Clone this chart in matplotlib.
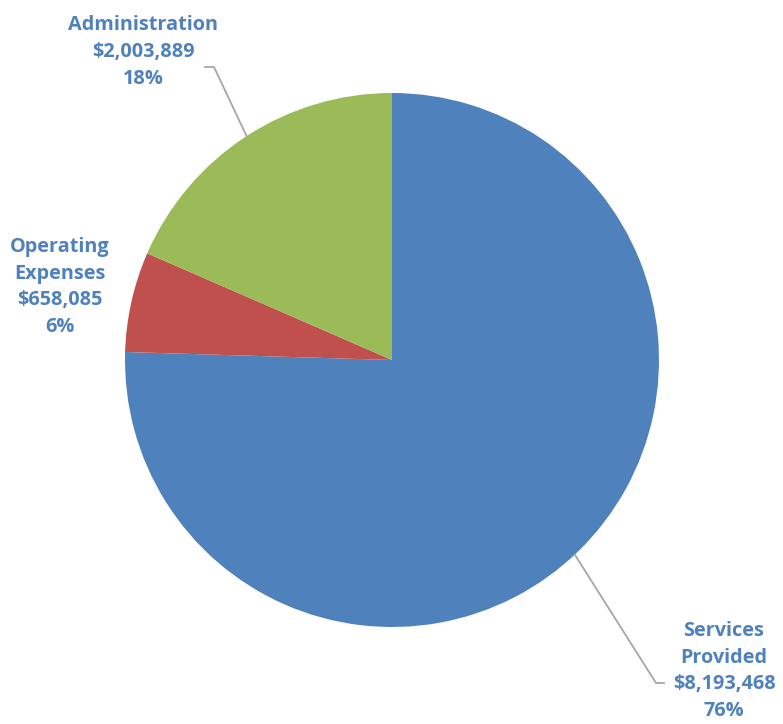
import matplotlib.pyplot as plt

# Budget allocation
labels = ["Services\nProvided", "Operating\nExpenses", "Administration"]
amounts = [8193468, 658085, 2003889]
percents = ["76%", "6%", "18%"]
colors = ["#4F81BD", "#C0504D", "#9BBB59"]

TEXT_COLOR = "#4F81BD"
LINE_COLOR = "#A6A6A6"


def main():
    fig = plt.figure(figsize=(7.83, 7.24), dpi=100)
    ax = fig.add_axes([0, 0, 1, 1])

    cx, cy, r = 392, 724 - 360, 267
    ax.pie(amounts, colors=colors, startangle=90, counterclock=False,
           center=(cx, cy), radius=r, frame=True,
           wedgeprops=dict(linewidth=0))
    ax.set_xlim(0, 783)
    ax.set_ylim(0, 724)
    ax.axis("off")

    # label text and positions (pixels from top-left)
    label_pos = [(724, 671), (60, 287), (143, 52)]
    for lab, amt, pct, (x, y) in zip(labels, amounts, percents, label_pos):
        txt = f"{lab}\n${amt:,}\n{pct}"
        ax.text(x, 724 - y, txt, ha="center", va="center",
                color=TEXT_COLOR, fontsize=14.3, fontweight="bold",
                family="Open Sans", linespacing=1.45)

    # leader lines
    ax.plot([205, 214, 247], [724 - 67, 724 - 67, 724 - 137],
            color=LINE_COLOR, lw=1.3)
    ax.plot([575, 656, 664], [724 - 555, 724 - 683, 724 - 683],
            color=LINE_COLOR, lw=1.3)

    fig.savefig("out.png", dpi=100)


if __name__ == "__main__":
    main()
